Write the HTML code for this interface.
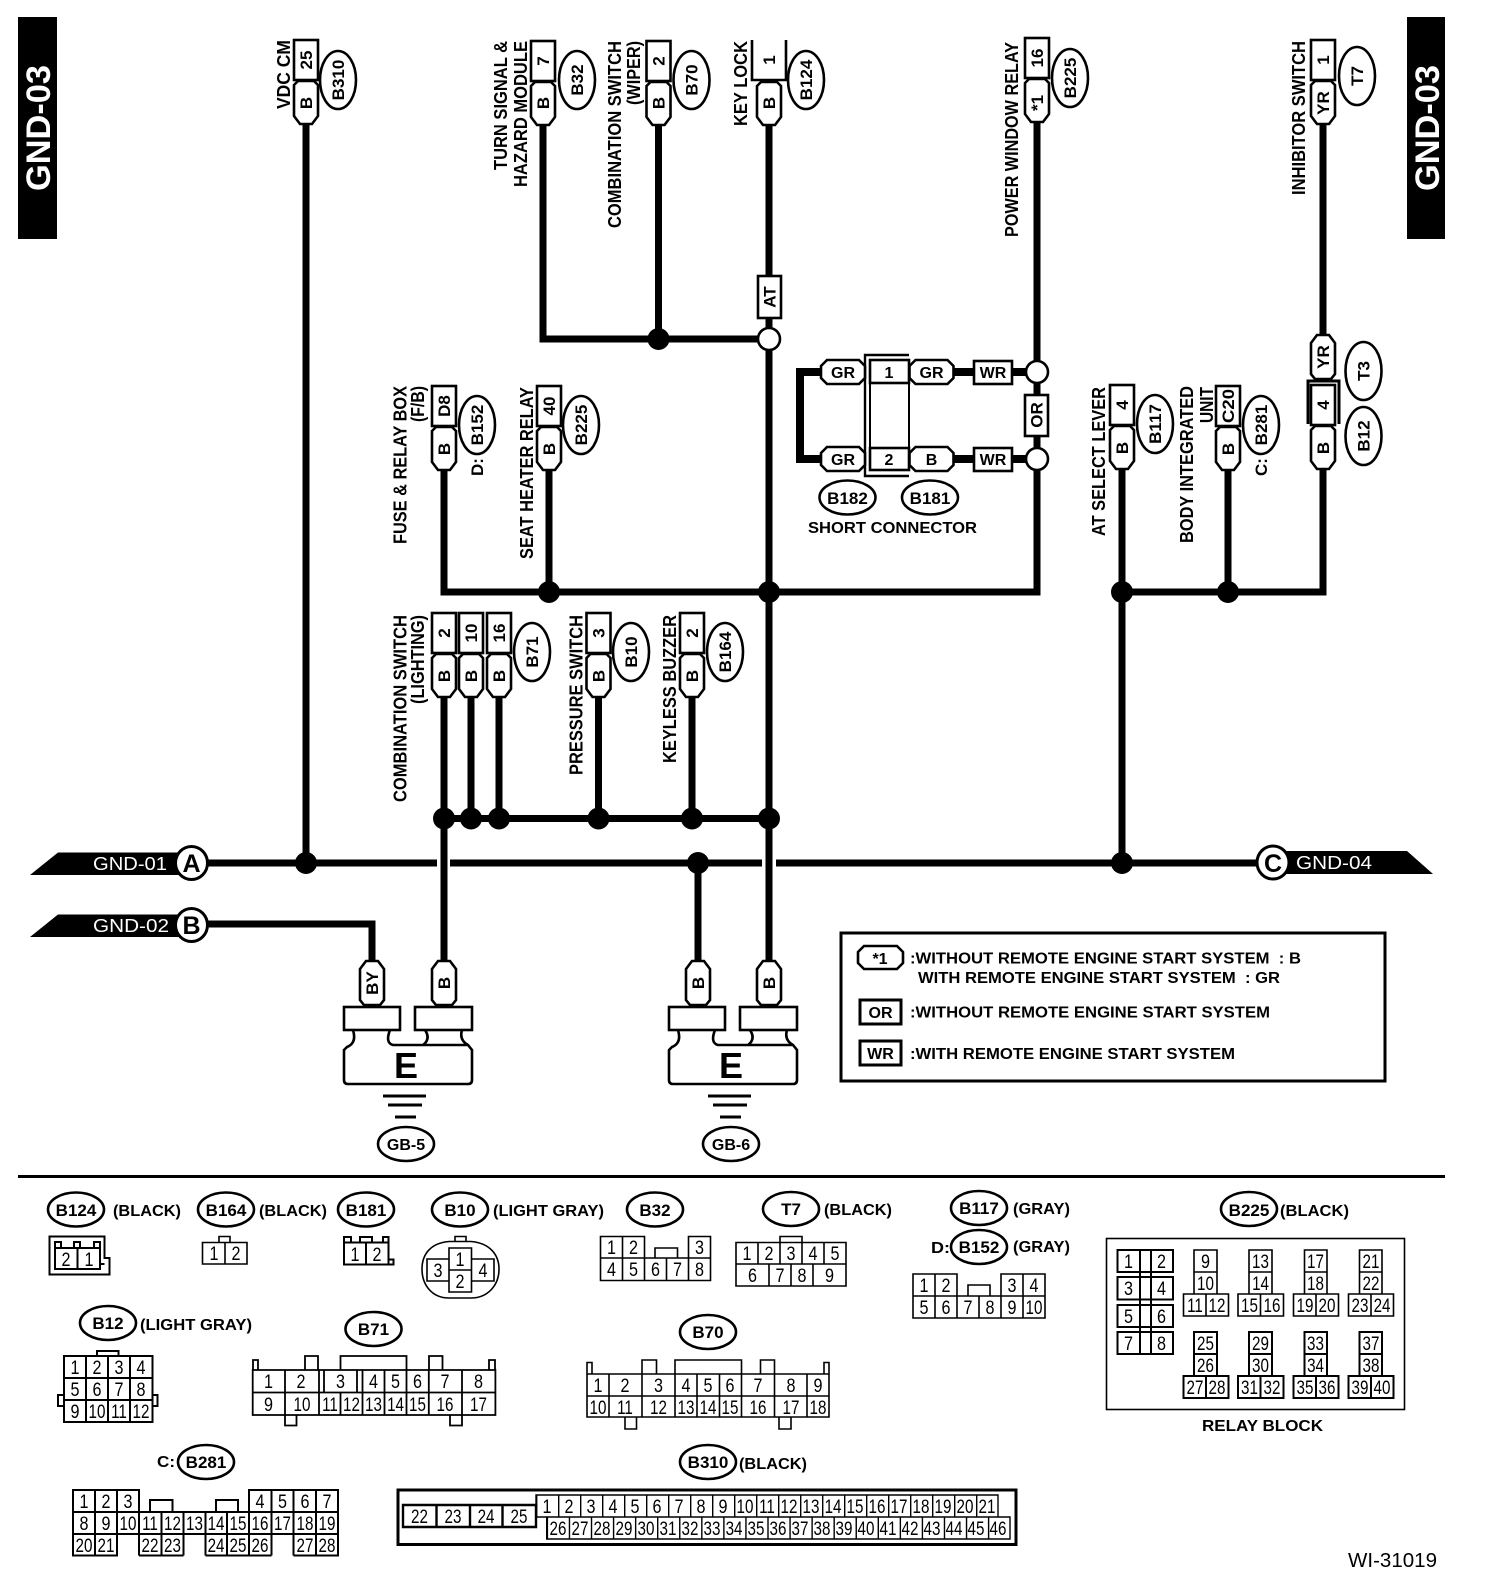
<!DOCTYPE html>
<html><head><meta charset="utf-8"><style>
html,body{margin:0;padding:0;background:#fff}
svg{display:block}
text{font-family:"Liberation Sans",sans-serif;fill:#000}
.l{font-weight:700;font-size:18px}
.w{font-weight:700;font-size:17px;text-anchor:middle}
.o{font-weight:700;font-size:17px;text-anchor:middle}
.h{font-weight:700;font-size:16px;text-anchor:middle}
.t{font-weight:700;font-size:16px}
.n{font-size:19px;text-anchor:middle;transform-box:fill-box;transform-origin:center;transform:translateY(.8px) scaleX(.85)}
.m{font-size:19px;text-anchor:middle;transform-box:fill-box;transform-origin:center;transform:translateY(.8px) scaleX(.8)}
.g{fill:#fff;font-size:18px}
.s{fill:none;stroke:#000;stroke-width:1.6}
.b{fill:#fff;stroke:#000;stroke-width:2.6}
.wire{fill:none;stroke:#000;stroke-width:7}
</style></head><body>
<svg width="1504" height="1594" viewBox="0 0 1504 1594" xmlns="http://www.w3.org/2000/svg">
<defs>
<g id="c"><rect class="b" x="-12" y="0" width="24" height="40"/><path class="b" d="M-12 45 L-8 41 H8 L12 45 V76 L6 84 H-6 L-12 76 Z"/></g>
<g id="p"><path class="b" d="M-12 0 L-8 -4 H8 L12 0 V31 L6 39 H-6 L-12 31 Z"/></g>
<path id="f" class="b" d="M-6 0 H6 L12 8 V39 L8 44 H-8 L-12 39 V8 Z"/>
<path id="h" class="b" d="M-16 -12 H16 L22 -6 V6 L16 12 H-16 L-22 6 V-6 Z"/>
<ellipse id="ov" class="b" cx="0" cy="0" rx="18" ry="29"/>
<ellipse id="oh" class="b" cx="0" cy="0" rx="28" ry="17"/>
<g id="gnd"><path class="b" style="fill:none" d="M353 1030 q4 13 -6 17 l-3 3 V1080 q0 4 4 4 H468 q4 0 4 -4 V1050 l-4 -5 q-9 -5 -6 -15 M390 1030 q-5 13 3 15 H468 M425 1030 q6 9 -2 15"/><rect class="b" x="344" y="1007" width="56" height="23"/><rect class="b" x="415" y="1007" width="57" height="23"/><path stroke="#000" stroke-width="3" d="M383 1096H426M388 1105H422M395 1117H416"/><ellipse class="b" cx="406" cy="1144" rx="28" ry="17"/></g>
</defs>

<!-- side tabs -->
<rect x="18" y="17" width="39" height="222" fill="#000"/>
<text class="t" style="fill:#fff;font-size:34px" transform="translate(50,191) rotate(-90)" textLength="126" lengthAdjust="spacingAndGlyphs">GND-03</text>
<rect x="1407" y="17" width="38" height="222" fill="#000"/>
<text class="t" style="fill:#fff;font-size:34px" transform="translate(1439,191) rotate(-90)" textLength="126" lengthAdjust="spacingAndGlyphs">GND-03</text>

<!-- wires -->
<path class="wire" d="M306 120V863M543 120V339H769M658.5 120V339M769 120V961M444 465V592H1037V120M549 465V592"/>
<path class="wire" d="M1122 465V863M1228 465V592M1122 592H1323V465M1323 120V340"/>
<path class="wire" d="M444 695V961M471 695V818M499 695V818M598.5 695V818M692 695V818M444 818.5H769"/>
<path class="wire" d="M200 863H437M450 863H762M776 863H1260M698 863V961M200 924H372V961"/>
<path class="wire" style="stroke-width:8" d="M821 372H800V459H821M953 372H1026M953 459H1026"/>

<!-- junctions -->
<g fill="#000"><circle cx="658.5" cy="339" r="11"/><circle cx="769" cy="592" r="11"/><circle cx="549" cy="592" r="11"/><circle cx="1122" cy="592" r="11"/><circle cx="1228" cy="592" r="11"/><circle cx="444" cy="818.5" r="11"/><circle cx="471" cy="818.5" r="11"/><circle cx="499" cy="818.5" r="11"/><circle cx="598.5" cy="818.5" r="11"/><circle cx="692" cy="818.5" r="11"/><circle cx="769" cy="818.5" r="11"/><circle cx="306" cy="863" r="11"/><circle cx="698" cy="863" r="11"/><circle cx="1122" cy="863" r="11"/></g>
<circle class="b" cx="769" cy="339" r="11"/><circle class="b" cx="1037" cy="372" r="11"/><circle class="b" cx="1037" cy="459" r="11"/>

<!-- AT / OR -->
<rect class="b" x="758" y="276" width="23" height="42"/><text class="w" transform="translate(775.5,297) rotate(-90)">AT</text>
<rect class="b" x="1025" y="395" width="23" height="41"/><text class="w" transform="translate(1042.5,415) rotate(-90)">OR</text>

<!-- top connectors -->
<use href="#c" x="306" y="40"/><text class="w" transform="translate(312,60) rotate(-90)">25</text><text class="w" transform="translate(312,103) rotate(-90)">B</text>
<use href="#c" x="543" y="41"/><text class="w" transform="translate(549,61) rotate(-90)">7</text><text class="w" transform="translate(549,103) rotate(-90)">B</text>
<use href="#c" x="658.5" y="41"/><text class="w" transform="translate(664.5,61) rotate(-90)">2</text><text class="w" transform="translate(664.5,103) rotate(-90)">B</text>
<path class="b" d="M752 40V80H786V40" style="fill:#fff"/><path class="b" d="M757 86 L761 82 H777 L781 86 V117 L775 125 H763 L757 117 Z"/><text class="w" transform="translate(775,60) rotate(-90)">1</text><text class="w" transform="translate(775,103) rotate(-90)">B</text>
<use href="#c" x="1037" y="38"/><text class="w" transform="translate(1043,58) rotate(-90)">16</text><text class="w" transform="translate(1043,103) rotate(-90)">*1</text>
<use href="#c" x="1323" y="40"/><text class="w" transform="translate(1329,60) rotate(-90)">1</text><text class="w" transform="translate(1329,103) rotate(-90)">YR</text>
<use href="#c" x="444" y="386"/><text class="w" transform="translate(450,406) rotate(-90)">D8</text><text class="w" transform="translate(450,449) rotate(-90)">B</text>
<use href="#c" x="549" y="386"/><text class="w" transform="translate(555,406) rotate(-90)">40</text><text class="w" transform="translate(555,449) rotate(-90)">B</text>
<use href="#c" x="1122" y="385"/><text class="w" transform="translate(1128,405) rotate(-90)">4</text><text class="w" transform="translate(1128,448) rotate(-90)">B</text>
<use href="#c" x="1228" y="386"/><text class="w" transform="translate(1234,406) rotate(-90)" textLength="34" lengthAdjust="spacingAndGlyphs">C20</text><text class="w" transform="translate(1234,449) rotate(-90)">B</text>
<use href="#f" x="1323" y="335"/><text class="w" transform="translate(1329,357) rotate(-90)">YR</text>
<path class="s" style="stroke-width:3" d="M1308 424V381H1339V424"/>
<use href="#c" x="1323" y="385"/><text class="w" transform="translate(1329,405) rotate(-90)">4</text><text class="w" transform="translate(1329,448) rotate(-90)">B</text>
<use href="#c" x="444" y="613"/><text class="w" transform="translate(450,633) rotate(-90)">2</text><text class="w" transform="translate(450,676) rotate(-90)">B</text>
<use href="#c" x="471" y="613"/><text class="w" transform="translate(477,633) rotate(-90)">10</text><text class="w" transform="translate(477,676) rotate(-90)">B</text>
<use href="#c" x="499" y="613"/><text class="w" transform="translate(505,633) rotate(-90)">16</text><text class="w" transform="translate(505,676) rotate(-90)">B</text>
<use href="#c" x="598.5" y="613"/><text class="w" transform="translate(604.5,633) rotate(-90)">3</text><text class="w" transform="translate(604.5,676) rotate(-90)">B</text>
<use href="#c" x="692" y="613"/><text class="w" transform="translate(698,633) rotate(-90)">2</text><text class="w" transform="translate(698,676) rotate(-90)">B</text>

<!-- ovals vertical -->
<use href="#ov" x="338" y="80"/><text class="o" transform="translate(344,80) rotate(-90)">B310</text>
<use href="#ov" x="577" y="80"/><text class="o" transform="translate(583,80) rotate(-90)">B32</text>
<use href="#ov" x="691.5" y="80"/><text class="o" transform="translate(697.5,80) rotate(-90)">B70</text>
<use href="#ov" x="806" y="80"/><text class="o" transform="translate(812,80) rotate(-90)">B124</text>
<use href="#ov" x="1070" y="78"/><text class="o" transform="translate(1076,78) rotate(-90)">B225</text>
<use href="#ov" x="1357" y="76"/><text class="o" transform="translate(1363,76) rotate(-90)">T7</text>
<use href="#ov" x="477" y="425"/><text class="o" transform="translate(483,425) rotate(-90)">B152</text>
<use href="#ov" x="581" y="425"/><text class="o" transform="translate(587,425) rotate(-90)">B225</text>
<use href="#ov" x="1155" y="424"/><text class="o" transform="translate(1161,424) rotate(-90)">B117</text>
<use href="#ov" x="1261" y="425"/><text class="o" transform="translate(1267,425) rotate(-90)">B281</text>
<use href="#ov" x="1363.5" y="371"/><text class="o" transform="translate(1369.5,371) rotate(-90)">T3</text>
<use href="#ov" x="1363.5" y="436"/><text class="o" transform="translate(1369.5,436) rotate(-90)">B12</text>
<use href="#ov" x="532" y="652"/><text class="o" transform="translate(538,652) rotate(-90)">B71</text>
<use href="#ov" x="631" y="652"/><text class="o" transform="translate(637,652) rotate(-90)">B10</text>
<use href="#ov" x="725" y="652"/><text class="o" transform="translate(731,652) rotate(-90)">B164</text>
<text class="o" transform="translate(483,467) rotate(-90)">D:</text>
<text class="o" transform="translate(1267,467) rotate(-90)">C:</text>

<!-- vertical labels -->
<text class="l" transform="translate(290,109) rotate(-90)" textLength="69" lengthAdjust="spacingAndGlyphs">VDC CM</text>
<text class="l" transform="translate(507,170) rotate(-90)" textLength="129" lengthAdjust="spacingAndGlyphs">TURN SIGNAL &amp;</text>
<text class="l" transform="translate(527,187) rotate(-90)" textLength="146" lengthAdjust="spacingAndGlyphs">HAZARD MODULE</text>
<text class="l" transform="translate(621,228) rotate(-90)" textLength="187" lengthAdjust="spacingAndGlyphs">COMBINATION SWITCH</text>
<text class="l" transform="translate(640,105) rotate(-90)" textLength="64" lengthAdjust="spacingAndGlyphs">(WIPER)</text>
<text class="l" transform="translate(747,126) rotate(-90)" textLength="85" lengthAdjust="spacingAndGlyphs">KEY LOCK</text>
<text class="l" transform="translate(406.5,544) rotate(-90)" textLength="158" lengthAdjust="spacingAndGlyphs">FUSE &amp; RELAY BOX</text>
<text class="l" transform="translate(424,422) rotate(-90)" textLength="36" lengthAdjust="spacingAndGlyphs">(F/B)</text>
<text class="l" transform="translate(533,559) rotate(-90)" textLength="172" lengthAdjust="spacingAndGlyphs">SEAT HEATER RELAY</text>
<text class="l" transform="translate(1018,237) rotate(-90)" textLength="195" lengthAdjust="spacingAndGlyphs">POWER WINDOW RELAY</text>
<text class="l" transform="translate(1305,195) rotate(-90)" textLength="154" lengthAdjust="spacingAndGlyphs">INHIBITOR SWITCH</text>
<text class="l" transform="translate(1105,536) rotate(-90)" textLength="149" lengthAdjust="spacingAndGlyphs">AT SELECT LEVER</text>
<text class="l" transform="translate(1193,543) rotate(-90)" textLength="157" lengthAdjust="spacingAndGlyphs">BODY INTEGRATED</text>
<text class="l" transform="translate(1213,423) rotate(-90)" textLength="36" lengthAdjust="spacingAndGlyphs">UNIT</text>
<text class="l" transform="translate(406.5,802) rotate(-90)" textLength="187" lengthAdjust="spacingAndGlyphs">COMBINATION SWITCH</text>
<text class="l" transform="translate(424,704) rotate(-90)" textLength="89" lengthAdjust="spacingAndGlyphs">(LIGHTING)</text>
<text class="l" transform="translate(582.5,775) rotate(-90)" textLength="160" lengthAdjust="spacingAndGlyphs">PRESSURE SWITCH</text>
<text class="l" transform="translate(676,763) rotate(-90)" textLength="148" lengthAdjust="spacingAndGlyphs">KEYLESS BUZZER</text>

<!-- short connector -->
<path class="s" style="stroke-width:2.4" d="M909 355H865V476H909"/>
<rect class="b" x="870" y="360" width="39" height="110" style="stroke-width:2"/>
<rect class="b" x="870" y="360" width="39" height="23"/><rect class="b" x="870" y="448" width="39" height="22"/>
<text class="h" x="889" y="378">1</text><text class="h" x="889" y="465">2</text>
<use href="#h" x="843" y="372"/><text class="h" x="843" y="378">GR</text>
<use href="#h" x="843" y="459"/><text class="h" x="843" y="465">GR</text>
<use href="#h" x="931.5" y="372"/><text class="h" x="931.5" y="378">GR</text>
<use href="#h" x="931.5" y="459"/><text class="h" x="931.5" y="465">B</text>
<rect class="b" x="974" y="361" width="38" height="23"/><text class="h" x="993" y="378">WR</text>
<rect class="b" x="974" y="448" width="38" height="23"/><text class="h" x="993" y="465">WR</text>
<use href="#oh" x="847.5" y="497.5"/><text class="o" x="847.5" y="504">B182</text>
<use href="#oh" x="930" y="497.5"/><text class="o" x="930" y="504">B181</text>
<text class="t" x="808" y="533" textLength="169" lengthAdjust="spacingAndGlyphs">SHORT CONNECTOR</text>

<!-- GND tags -->
<polygon points="30,875 58,852.5 185,852.5 185,875" fill="#000"/>
<text class="g" x="93" y="870" textLength="74" lengthAdjust="spacingAndGlyphs">GND-01</text>
<ellipse class="b" style="stroke-width:3" cx="191.5" cy="863" rx="16" ry="16.5"/><text x="191.5" y="872" style="font-weight:700;font-size:25px;text-anchor:middle">A</text>
<polygon points="30,937 58,914.5 185,914.5 185,937" fill="#000"/>
<text class="g" x="93" y="932" textLength="76" lengthAdjust="spacingAndGlyphs">GND-02</text>
<ellipse class="b" style="stroke-width:3" cx="191.5" cy="925" rx="16" ry="16.5"/><text x="191.5" y="934" style="font-weight:700;font-size:25px;text-anchor:middle">B</text>
<polygon points="1280,851 1407,851 1433,874 1280,874" fill="#000"/>
<text class="g" x="1296" y="869" textLength="76" lengthAdjust="spacingAndGlyphs">GND-04</text>
<ellipse class="b" style="stroke-width:3" cx="1273" cy="862.5" rx="16" ry="16.5"/><text x="1273" y="872" style="font-weight:700;font-size:25px;text-anchor:middle">C</text>

<!-- ground pills & blocks -->
<use href="#f" x="372" y="961"/><text class="w" transform="translate(378,983) rotate(-90)">BY</text>
<use href="#f" x="444" y="961"/><text class="w" transform="translate(450,983) rotate(-90)">B</text>
<use href="#f" x="698" y="961"/><text class="w" transform="translate(704,983) rotate(-90)">B</text>
<use href="#f" x="769" y="961"/><text class="w" transform="translate(775,983) rotate(-90)">B</text>
<use href="#gnd"/><use href="#gnd" x="325"/>
<text x="406" y="1078" style="font-weight:700;font-size:36px;text-anchor:middle">E</text>
<text x="731" y="1078" style="font-weight:700;font-size:36px;text-anchor:middle">E</text>
<text class="h" x="406" y="1150">GB-5</text><text class="h" x="731" y="1150">GB-6</text>

<!-- legend -->
<rect x="841" y="933" width="544" height="148" fill="none" stroke="#000" stroke-width="3"/>
<path class="b" style="stroke-width:2.6" d="M864 946 H897 L903 952 V963 L897 969 H864 L858 963 V952 Z"/><text class="h" x="880" y="964">*1</text>
<rect class="b" x="860" y="1000" width="41" height="24" style="stroke-width:3"/><text class="h" x="880.5" y="1018">OR</text>
<rect class="b" x="860" y="1041" width="41" height="24" style="stroke-width:3"/><text class="h" x="880.5" y="1059">WR</text>
<text class="t" x="910" y="963.5" textLength="391" lengthAdjust="spacingAndGlyphs" xml:space="preserve">:WITHOUT REMOTE ENGINE START SYSTEM  : B</text>
<text class="t" x="918" y="983" textLength="362" lengthAdjust="spacingAndGlyphs" xml:space="preserve">WITH REMOTE ENGINE START SYSTEM  : GR</text>
<text class="t" x="910" y="1017.5" textLength="360" lengthAdjust="spacingAndGlyphs">:WITHOUT REMOTE ENGINE START SYSTEM</text>
<text class="t" x="910" y="1059" textLength="325" lengthAdjust="spacingAndGlyphs">:WITH REMOTE ENGINE START SYSTEM</text>

<!-- divider -->
<rect x="18" y="1175" width="1427" height="3" fill="#000"/>

<!-- lower ovals -->
<use href="#oh" x="76" y="1209.5"/><text class="o" x="76" y="1216">B124</text><text class="t" x="113" y="1216" textLength="68" lengthAdjust="spacingAndGlyphs">(BLACK)</text>
<use href="#oh" x="226" y="1209.5"/><text class="o" x="226" y="1216">B164</text><text class="t" x="259" y="1216" textLength="68" lengthAdjust="spacingAndGlyphs">(BLACK)</text>
<use href="#oh" x="366" y="1209.5"/><text class="o" x="366" y="1216">B181</text>
<use href="#oh" x="460" y="1209.5"/><text class="o" x="460" y="1216">B10</text><text class="t" x="493" y="1216" textLength="111" lengthAdjust="spacingAndGlyphs">(LIGHT GRAY)</text>
<use href="#oh" x="655" y="1209.5"/><text class="o" x="655" y="1216">B32</text>
<use href="#oh" x="791" y="1209"/><text class="o" x="791" y="1215">T7</text><text class="t" x="824" y="1215" textLength="68" lengthAdjust="spacingAndGlyphs">(BLACK)</text>
<use href="#oh" x="979" y="1208"/><text class="o" x="979" y="1214">B117</text><text class="t" x="1013" y="1214" textLength="57" lengthAdjust="spacingAndGlyphs">(GRAY)</text>
<use href="#oh" x="979" y="1247"/><text class="o" x="979" y="1253">B152</text><text class="t" x="931" y="1253" textLength="19" lengthAdjust="spacingAndGlyphs">D:</text><text class="t" x="1013" y="1252" textLength="57" lengthAdjust="spacingAndGlyphs">(GRAY)</text>
<use href="#oh" x="1249" y="1209"/><text class="o" x="1249" y="1216">B225</text><text class="t" x="1280" y="1216" textLength="69" lengthAdjust="spacingAndGlyphs">(BLACK)</text>
<use href="#oh" x="108" y="1323"/><text class="o" x="108" y="1329">B12</text><text class="t" x="140" y="1330" textLength="112" lengthAdjust="spacingAndGlyphs">(LIGHT GRAY)</text>
<use href="#oh" x="373.5" y="1329"/><text class="o" x="373.5" y="1335">B71</text>
<use href="#oh" x="708" y="1332"/><text class="o" x="708" y="1338">B70</text>
<use href="#oh" x="206" y="1462"/><text class="o" x="206" y="1468">B281</text><text class="t" x="157" y="1467" textLength="18" lengthAdjust="spacingAndGlyphs">C:</text>
<use href="#oh" x="708" y="1462"/><text class="o" x="708" y="1468">B310</text><text class="t" x="739" y="1469" textLength="68" lengthAdjust="spacingAndGlyphs">(BLACK)</text>

<!-- B124 -->
<path class="s" style="stroke-width:2" d="M49.5 1236.5H104.5V1258H109.5V1274.5H49.5Z"/>
<path class="s" style="stroke-width:2" d="M55 1248H100V1269H55ZM77.5 1248V1269M55 1248V1242H61V1248M74 1248V1242H80V1248M94 1248V1242H100V1248M100 1264H104.5"/>
<text class="n" x="66" y="1265">2</text><text class="n" x="89" y="1265">1</text>
<!-- B164 -->
<path class="s" d="M202.5 1242.5H247V1264H202.5ZM225 1242.5V1264M219 1242.5V1236.5H230V1242.5"/>
<text class="n" x="214" y="1259">1</text><text class="n" x="236" y="1259">2</text>
<!-- B181 -->
<path class="s" style="stroke-width:2" d="M344 1242.5H388.5V1264.5H344ZM366 1242.5V1264.5M344 1242.5V1237H351V1242.5M360 1242.5V1237H372V1242.5M383 1242.5V1237H388.5V1242.5M388.5 1259.5H393.5V1264.5H388.5"/>
<text class="n" x="355" y="1260">1</text><text class="n" x="377" y="1260">2</text>
<!-- B10 -->
<path class="s" d="M449 1241.5C430 1243 422 1255 422 1269C422 1285 432 1298 449 1298H471C488 1298 499 1285 499 1269C499 1255 490 1243 471 1241.5ZM455 1241.5V1236.5H466V1241.5"/>
<path class="s" d="M449 1248H471.5V1292H449ZM449 1270H471.5M427 1259H449V1281H427ZM471.5 1259H494V1281H471.5Z"/>
<text class="n" x="460" y="1265">1</text><text class="n" x="460" y="1287">2</text><text class="n" x="438" y="1276">3</text><text class="n" x="483" y="1276">4</text>
<!-- B32 -->
<path class="s" d="M600.5 1236.5H644.5V1258H600.5ZM622.5 1236.5V1280.5M688.5 1236.5H710.5V1258H688.5ZM600.5 1258H710.5V1280.5H600.5ZM644.5 1258V1280.5M666.5 1258V1280.5M688.5 1258V1280.5M655 1258V1248H677.5V1258"/>
<text class="n" x="611.5" y="1253">1</text><text class="n" x="633.5" y="1253">2</text><text class="n" x="699.5" y="1253">3</text>
<text class="n" x="611.5" y="1275">4</text><text class="n" x="633.5" y="1275">5</text><text class="n" x="655.5" y="1275">6</text><text class="n" x="677.5" y="1275">7</text><text class="n" x="699.5" y="1275">8</text>
<!-- T7 -->
<path class="s" d="M736 1242.5H846V1286H736ZM736 1264H846M758 1242.5V1264M780 1242.5V1264M802 1242.5V1264M824 1242.5V1264M769 1264V1286M791 1264V1286M813 1264V1286M780 1242.5V1236.5H802V1242.5"/>
<text class="n" x="747" y="1259">1</text><text class="n" x="769" y="1259">2</text><text class="n" x="791" y="1259">3</text><text class="n" x="813" y="1259">4</text><text class="n" x="835" y="1259">5</text>
<text class="n" x="752.5" y="1281">6</text><text class="n" x="780" y="1281">7</text><text class="n" x="802" y="1281">8</text><text class="n" x="829.5" y="1281">9</text>
<!-- B117/B152 -->
<path class="s" d="M913 1274H957V1296H913ZM935 1274V1318M1001 1274H1045V1296H1001ZM1023 1274V1318M913 1296H1045V1318H913ZM957 1296V1318M979 1296V1318M1001 1296V1318M968 1296V1285H990V1296"/>
<text class="n" x="924" y="1291">1</text><text class="n" x="946" y="1291">2</text><text class="n" x="1012" y="1291">3</text><text class="n" x="1034" y="1291">4</text>
<text class="n" x="924" y="1313">5</text><text class="n" x="946" y="1313">6</text><text class="n" x="968" y="1313">7</text><text class="n" x="990" y="1313">8</text><text class="n" x="1012" y="1313">9</text><text class="m" x="1034" y="1313">10</text>
<!-- Relay block -->
<rect class="s" x="1106.5" y="1238.5" width="298" height="171"/>
<path class="s" style="stroke-width:2" d="M1117.5 1250H1173V1272H1117.5ZM1117.5 1277H1173V1299.5H1117.5ZM1117.5 1305H1173V1327H1117.5ZM1117.5 1332H1173V1354H1117.5ZM1140 1250V1354M1151 1250V1354"/>
<text class="n" x="1128.5" y="1267">1</text><text class="n" x="1161.5" y="1267">2</text><text class="n" x="1128.5" y="1294">3</text><text class="n" x="1161.5" y="1294">4</text><text class="n" x="1128.5" y="1322">5</text><text class="n" x="1161.5" y="1322">6</text><text class="n" x="1128.5" y="1349">7</text><text class="n" x="1161.5" y="1349">8</text>
<path class="s" d="M1194 1250H1217V1294H1194ZM1194 1272H1217M1183.5 1294H1228.5V1316H1183.5ZM1206 1294V1316M1249 1250H1272V1294H1249ZM1249 1272H1272M1238 1294H1283.5V1316H1238ZM1260.5 1294V1316M1304.5 1250H1327V1294H1304.5ZM1304.5 1272H1327M1293.5 1294H1338.5V1316H1293.5ZM1316 1294V1316M1359.5 1250H1382V1294H1359.5ZM1359.5 1272H1382M1348.5 1294H1393.5V1316H1348.5ZM1371 1294V1316"/>
<path class="s" style="stroke-width:2" d="M1194 1332H1217V1376H1194ZM1194 1354H1217M1183.5 1376H1228.5V1398H1183.5ZM1206 1376V1398M1249 1332H1272V1376H1249ZM1249 1354H1272M1238 1376H1283.5V1398H1238ZM1260.5 1376V1398M1304.5 1332H1327V1376H1304.5ZM1304.5 1354H1327M1293.5 1376H1338.5V1398H1293.5ZM1316 1376V1398M1359.5 1332H1382V1376H1359.5ZM1359.5 1354H1382M1348.5 1376H1393.5V1398H1348.5ZM1371 1376V1398"/>
<text class="n" x="1205.5" y="1267">9</text><text class="m" x="1205.5" y="1289">10</text><text class="m" x="1195" y="1311">11</text><text class="m" x="1217" y="1311">12</text>
<text class="m" x="1260.5" y="1267">13</text><text class="m" x="1260.5" y="1289">14</text><text class="m" x="1249.5" y="1311">15</text><text class="m" x="1272" y="1311">16</text>
<text class="m" x="1315.5" y="1267">17</text><text class="m" x="1315.5" y="1289">18</text><text class="m" x="1305" y="1311">19</text><text class="m" x="1327" y="1311">20</text>
<text class="m" x="1371" y="1267">21</text><text class="m" x="1371" y="1289">22</text><text class="m" x="1360" y="1311">23</text><text class="m" x="1382" y="1311">24</text>
<text class="m" x="1205.5" y="1349">25</text><text class="m" x="1205.5" y="1371">26</text><text class="m" x="1195" y="1393">27</text><text class="m" x="1217" y="1393">28</text>
<text class="m" x="1260.5" y="1349">29</text><text class="m" x="1260.5" y="1371">30</text><text class="m" x="1249.5" y="1393">31</text><text class="m" x="1272" y="1393">32</text>
<text class="m" x="1315.5" y="1349">33</text><text class="m" x="1315.5" y="1371">34</text><text class="m" x="1305" y="1393">35</text><text class="m" x="1327" y="1393">36</text>
<text class="m" x="1371" y="1349">37</text><text class="m" x="1371" y="1371">38</text><text class="m" x="1360" y="1393">39</text><text class="m" x="1382" y="1393">40</text>
<text class="t" x="1202" y="1431" textLength="121" lengthAdjust="spacingAndGlyphs">RELAY BLOCK</text>
<!-- B12 -->
<path class="s" style="stroke-width:2" d="M64 1356H152.5V1422H64ZM64 1378H152.5M64 1400H152.5M86 1356V1422M108 1356V1422M130 1356V1422M97 1356V1351H118.5V1356M64 1395H58V1406H64M152.5 1395H157.5V1406H152.5"/>
<text class="n" x="75" y="1373">1</text><text class="n" x="97" y="1373">2</text><text class="n" x="119" y="1373">3</text><text class="n" x="141" y="1373">4</text>
<text class="n" x="75" y="1395">5</text><text class="n" x="97" y="1395">6</text><text class="n" x="119" y="1395">7</text><text class="n" x="141" y="1395">8</text>
<text class="n" x="75" y="1417">9</text><text class="m" x="97" y="1417">10</text><text class="m" x="119" y="1417">11</text><text class="m" x="141" y="1417">12</text>
<!-- B71 -->
<path class="s" style="stroke-width:1.8" d="M252.7 1370H495.4V1415H252.7ZM252.7 1392.5H495.4M285 1370V1415M319 1370V1415M324 1370V1392.5M357 1370V1392.5M362.5 1370V1415M384.5 1370V1415M406.5 1370V1415M428.8 1370V1415M462 1370V1415M340.5 1392.5V1415M253 1370V1360H258V1370M305 1370V1356H318V1370M340.5 1370V1356H406.5V1370M429 1370V1356H442.5V1370M489 1370V1360H495V1370M285 1415V1425.5H296.5V1415M450 1415V1425.5H462V1415"/>
<text class="n" x="268.5" y="1387">1</text><text class="n" x="301" y="1387">2</text><text class="n" x="340.5" y="1387">3</text><text class="n" x="373.5" y="1387">4</text><text class="n" x="395.5" y="1387">5</text><text class="n" x="417.5" y="1387">6</text><text class="n" x="445" y="1387">7</text><text class="n" x="478.5" y="1387">8</text>
<text class="n" x="268.5" y="1410">9</text><text class="m" x="302" y="1410">10</text><text class="m" x="330" y="1410">11</text><text class="m" x="351.5" y="1410">12</text><text class="m" x="373.5" y="1410">13</text><text class="m" x="395.5" y="1410">14</text><text class="m" x="417.5" y="1410">15</text><text class="m" x="445" y="1410">16</text><text class="m" x="478.5" y="1410">17</text>
<!-- B70 -->
<path class="s" d="M587 1374H829V1417H587ZM587 1396H829M609 1374V1417M642 1374V1417M675 1374V1417M697 1374V1417M719.5 1374V1417M741.5 1374V1417M774.5 1374V1417M807 1374V1417M587 1374V1362.5H592V1374M642 1374V1360H656.5V1374M675 1374V1360H741.5V1374M760.5 1374V1360H774.5V1374M824 1374V1362.5H829V1374M625 1417V1429H636.5V1417M779 1417V1429H791V1417"/>
<text class="n" x="598" y="1391">1</text><text class="n" x="625" y="1391">2</text><text class="n" x="658.5" y="1391">3</text><text class="n" x="686" y="1391">4</text><text class="n" x="708" y="1391">5</text><text class="n" x="730" y="1391">6</text><text class="n" x="758" y="1391">7</text><text class="n" x="791" y="1391">8</text><text class="n" x="818" y="1391">9</text>
<text class="m" x="598" y="1413">10</text><text class="m" x="625" y="1413">11</text><text class="m" x="658.5" y="1413">12</text><text class="m" x="686" y="1413">13</text><text class="m" x="708" y="1413">14</text><text class="m" x="730" y="1413">15</text><text class="m" x="758" y="1413">16</text><text class="m" x="791" y="1413">17</text><text class="m" x="818" y="1413">18</text>
<!-- B281 -->
<path class="s" style="stroke-width:2" d="M73 1490H139V1512H73ZM95 1490V1512M117 1490V1512M249 1490H338V1512H249ZM271.5 1490V1512M293.5 1490V1512M316 1490V1512M73 1512H338V1534H73ZM95 1512V1555.5M117 1512V1534M139 1512V1555.5M161.5 1512V1555.5M183.5 1512V1555.5M205.5 1512V1555.5M227 1512V1555.5M249 1512V1555.5M271.5 1512V1555.5M293.5 1512V1555.5M316 1512V1555.5M73 1534V1555.5H117V1534M139 1555.5H183.5M205.5 1555.5H271.5M293.5 1555.5H338V1534M150 1512V1500H172.5V1512M216 1512V1500H238V1512"/>
<text class="n" x="84" y="1507">1</text><text class="n" x="106" y="1507">2</text><text class="n" x="128" y="1507">3</text><text class="n" x="260" y="1507">4</text><text class="n" x="282.5" y="1507">5</text><text class="n" x="305" y="1507">6</text><text class="n" x="327" y="1507">7</text>
<text class="n" x="84" y="1529">8</text><text class="n" x="106" y="1529">9</text><text class="m" x="128" y="1529">10</text><text class="m" x="150" y="1529">11</text><text class="m" x="172.5" y="1529">12</text><text class="m" x="194.5" y="1529">13</text><text class="m" x="216" y="1529">14</text><text class="m" x="238" y="1529">15</text><text class="m" x="260" y="1529">16</text><text class="m" x="282.5" y="1529">17</text><text class="m" x="305" y="1529">18</text><text class="m" x="327" y="1529">19</text>
<text class="m" x="84" y="1551">20</text><text class="m" x="106" y="1551">21</text><text class="m" x="150" y="1551">22</text><text class="m" x="172.5" y="1551">23</text><text class="m" x="216" y="1551">24</text><text class="m" x="238" y="1551">25</text><text class="m" x="260" y="1551">26</text><text class="m" x="305" y="1551">27</text><text class="m" x="327" y="1551">28</text>
<!-- B310 -->
<rect x="398" y="1490" width="618" height="54.5" fill="none" stroke="#000" stroke-width="3"/>
<path class="s" style="stroke-width:2.4" d="M403 1505H536V1527H403ZM436.5 1505V1527M470 1505V1527M502.5 1505V1527"/>
<path class="s" style="stroke-width:1.4" d="M536 1495H998V1517H536ZM546.7 1517H1010V1539H546.7Z"/>
<line x1="536" y1="1506" x2="998" y2="1506" stroke="#000" stroke-width="22" stroke-dasharray="1.4 20.6"/>
<line x1="546.7" y1="1528" x2="1010" y2="1528" stroke="#000" stroke-width="22" stroke-dasharray="1.4 20.66"/>
<text class="m" x="419.5" y="1522">22</text><text class="m" x="453" y="1522">23</text><text class="m" x="486" y="1522">24</text><text class="m" x="519" y="1522">25</text>
<text class="n" x="547" y="1512">1</text><text class="n" x="569" y="1512">2</text><text class="n" x="591" y="1512">3</text><text class="n" x="613" y="1512">4</text><text class="n" x="635" y="1512">5</text><text class="n" x="657" y="1512">6</text><text class="n" x="679" y="1512">7</text><text class="n" x="701" y="1512">8</text><text class="n" x="723" y="1512">9</text><text class="m" x="745" y="1512">10</text><text class="m" x="767" y="1512">11</text><text class="m" x="789" y="1512">12</text><text class="m" x="811" y="1512">13</text><text class="m" x="833" y="1512">14</text><text class="m" x="855" y="1512">15</text><text class="m" x="877" y="1512">16</text><text class="m" x="899" y="1512">17</text><text class="m" x="921" y="1512">18</text><text class="m" x="943" y="1512">19</text><text class="m" x="965" y="1512">20</text><text class="m" x="987" y="1512">21</text>
<text class="m" x="558" y="1534">26</text><text class="m" x="580" y="1534">27</text><text class="m" x="602" y="1534">28</text><text class="m" x="624" y="1534">29</text><text class="m" x="646" y="1534">30</text><text class="m" x="668" y="1534">31</text><text class="m" x="690" y="1534">32</text><text class="m" x="712" y="1534">33</text><text class="m" x="734" y="1534">34</text><text class="m" x="756" y="1534">35</text><text class="m" x="778" y="1534">36</text><text class="m" x="800" y="1534">37</text><text class="m" x="822" y="1534">38</text><text class="m" x="844" y="1534">39</text><text class="m" x="866" y="1534">40</text><text class="m" x="888" y="1534">41</text><text class="m" x="910" y="1534">42</text><text class="m" x="932" y="1534">43</text><text class="m" x="954" y="1534">44</text><text class="m" x="976" y="1534">45</text><text class="m" x="998" y="1534">46</text>
<text x="1348" y="1567" style="font-size:20px" textLength="89" lengthAdjust="spacingAndGlyphs">WI-31019</text>
</svg>
</body></html>
